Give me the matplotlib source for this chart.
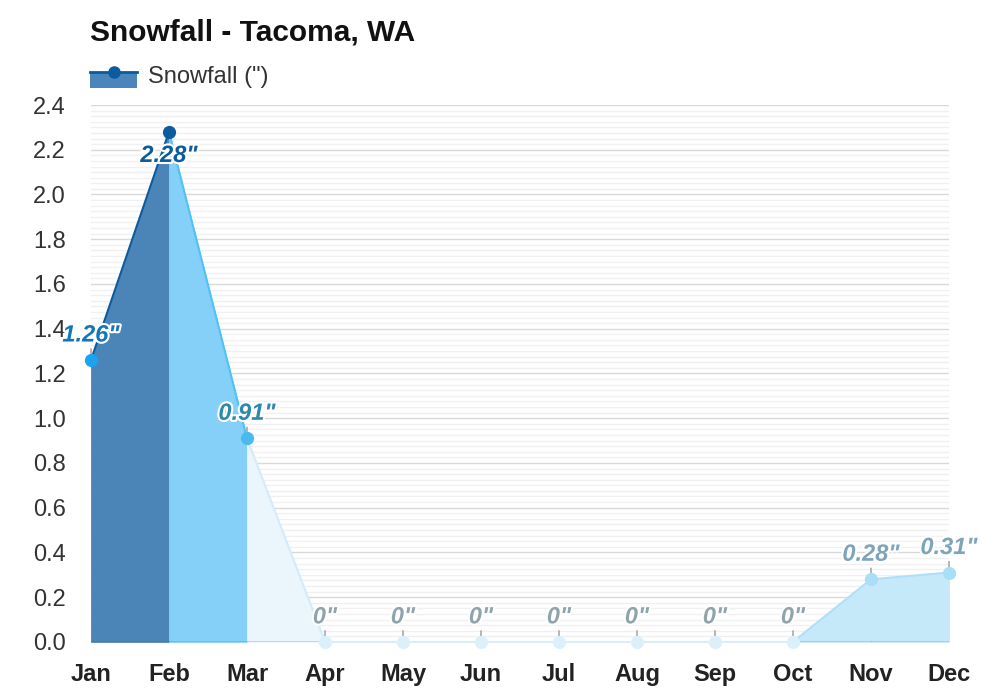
import matplotlib
matplotlib.use("Agg")
import matplotlib.pyplot as plt
import matplotlib.patheffects as pe
from matplotlib.legend_handler import HandlerBase
from matplotlib.patches import Rectangle
from matplotlib.lines import Line2D
from matplotlib.ticker import MultipleLocator
import numpy as np

plt.rcParams['font.family'] = ['Liberation Sans', 'DejaVu Sans']

# data
months = ["Jan", "Feb", "Mar", "Apr", "May", "Jun", "Jul", "Aug", "Sep", "Oct", "Nov", "Dec"]
snowfall = [1.26, 2.28, 0.91, 0, 0, 0, 0, 0, 0, 0, 0.28, 0.31]
labels = ['1.26"', '2.28"', '0.91"', '0"', '0"', '0"', '0"', '0"', '0"', '0"', '0.28"', '0.31"']

# colours per segment (month i -> i+1) and per point
seg_fill = ["#4b85b8", "#84d0f8", "#eaf5fc", "#eaf5fc", "#eaf5fc", "#eaf5fc",
            "#eaf5fc", "#eaf5fc", "#eaf5fc", "#c6e9fa", "#c6e9fa"]
seg_line = ["#0b5c9e", "#4fc3f7", "#d4ecfa", "#d9eefb", "#d9eefb", "#d9eefb",
            "#d9eefb", "#d9eefb", "#d9eefb", "#b0dff7", "#b0dff7"]
pt_color = ["#1aa3f0", "#0b5c9e", "#4ab9ee", "#dcf0fb", "#dcf0fb", "#dcf0fb",
            "#dcf0fb", "#dcf0fb", "#dcf0fb", "#dcf0fb", "#a9def7", "#a9def7"]
lab_color = ["#1177b8", "#0b5c9e", "#2c88ad", "#90a4ae", "#90a4ae", "#90a4ae",
             "#90a4ae", "#90a4ae", "#90a4ae", "#90a4ae", "#7ea4b9", "#7ea4b9"]

x = np.arange(len(months))
y = np.array(snowfall)

fig = plt.figure(figsize=(10, 7), dpi=100)
ax = fig.add_axes([0.091, 0.083, 0.858, 0.767])

ax.set_xlim(0, 11)
ax.set_ylim(0, 2.4)
ax.yaxis.set_major_locator(MultipleLocator(0.2))
ax.yaxis.set_minor_locator(MultipleLocator(0.025))
ax.grid(which='major', axis='y', color='#d9d9d9', lw=1)
ax.grid(which='minor', axis='y', color='#f0f0f0', lw=1)
ax.set_axisbelow(True)
for s in ax.spines.values():
    s.set_visible(False)
ax.tick_params(which='both', length=0)
ax.tick_params(axis='y', labelsize=17, labelcolor='#333333', pad=18)
ax.tick_params(axis='x', labelsize=17, labelcolor='#222222', pad=15)
ax.set_xticks(x)
ax.set_xticklabels(months, fontweight='bold')
ax.set_yticks(np.arange(0, 2.41, 0.2))
ax.set_yticklabels(["%.1f" % v for v in np.arange(0, 2.41, 0.2)])

for i in range(len(x) - 1):
    ax.fill_between(x[i:i + 2], y[i:i + 2], facecolor=seg_fill[i], edgecolor=seg_fill[i],
                    lw=0.6, zorder=2)
    ax.plot(x[i:i + 2], y[i:i + 2], color=seg_line[i], lw=1.5, zorder=3, clip_on=False)
    if y[i] > 0 or y[i + 1] > 0:
        ax.plot(x[i:i + 2], [0, 0], color='#4a5868', lw=1, zorder=3)

for i in range(len(x)):
    ax.plot(x[i], y[i], 'o', color=pt_color[i], ms=8.5, zorder=5, clip_on=False)
    if i == 1:
        off = -17
    else:
        off = 18
        ax.annotate('', xy=(x[i], y[i]), xytext=(0, 8), textcoords='offset points',
                    arrowprops=dict(arrowstyle='-', color='#999999', lw=1,
                                    shrinkA=0, shrinkB=0), zorder=4)
    ax.annotate(labels[i], xy=(x[i], y[i]), xytext=(0, off), textcoords='offset points',
                ha='center', va='center', fontsize=17, fontweight='bold', fontstyle='italic',
                color=lab_color[i], zorder=6,
                path_effects=[pe.withStroke(linewidth=3, foreground='white')])

fig.text(0.09, 0.953, "Snowfall - Tacoma, WA", fontsize=21.5, fontweight='bold',
         va='center', ha='left', color='#111111')


class FillHandler(HandlerBase):
    def create_artists(self, legend, orig, xdescent, ydescent, width, height, fontsize, trans):
        top = height * 0.7 - ydescent
        r = Rectangle((-xdescent, -ydescent - height * 0.25), width, top + ydescent + height * 0.25,
                      fc='#4a86b9', ec='none', transform=trans)
        ln = Line2D([-xdescent, width - xdescent], [top, top], color='#0b5c9e', lw=2, transform=trans)
        mk = Line2D([width / 2 - xdescent], [top], marker='o', ms=8, color='#0b5c9e',
                    lw=0, transform=trans)
        return [r, ln, mk]


leg = ax.legend(handles=[Rectangle((0, 0), 1, 1)], labels=['Snowfall (")'],
                handler_map={Rectangle: FillHandler()}, loc='upper left',
                bbox_to_anchor=(0.09, 0.905), bbox_transform=fig.transFigure,
                frameon=False, fontsize=17, handlelength=2.0, handletextpad=0.45,
                borderpad=0, borderaxespad=0, labelcolor='#333333')

fig.savefig("out.png", dpi=100)
